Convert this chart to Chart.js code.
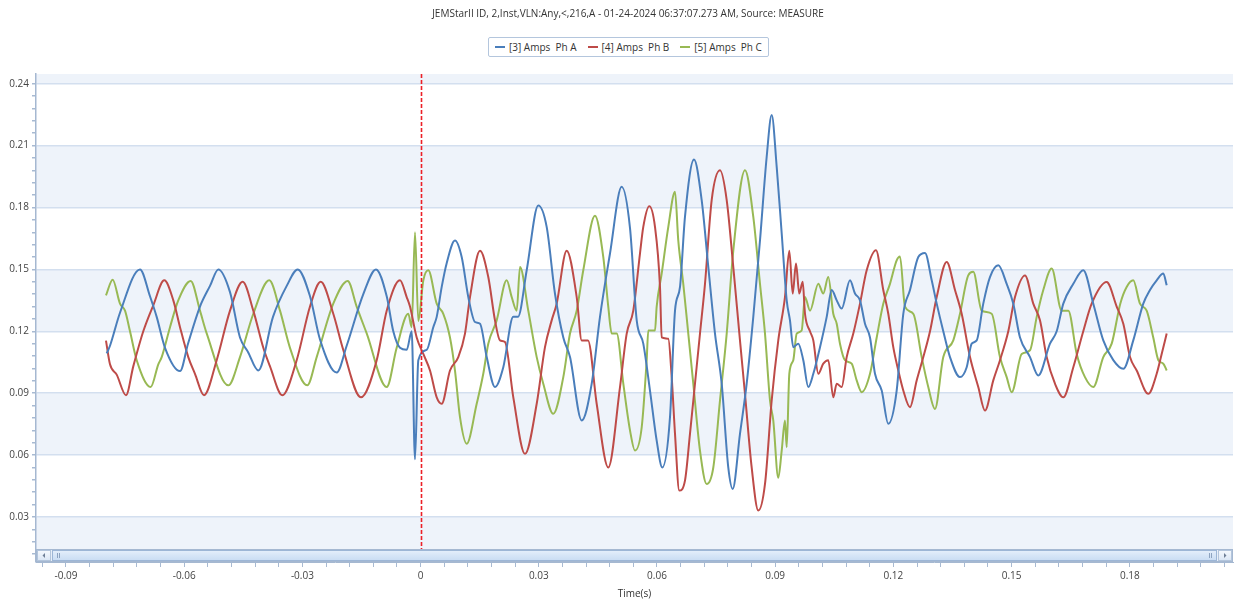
<!DOCTYPE html>
<html><head><meta charset="utf-8">
<script src="https://cdn.jsdelivr.net/npm/chart.js@4.4.1/dist/chart.umd.min.js"></script>
<style>
html,body{margin:0;padding:0;background:#fff;}
#wrap{position:relative;width:1238px;height:604px;overflow:hidden;font-family:'Open Sans',sans-serif;}
#c{position:absolute;left:0;top:0;}
#title{position:absolute;top:7px;left:628px;transform:translateX(-50%);white-space:pre;font-size:10px;line-height:12px;color:#333;}
#legend{position:absolute;left:488px;top:37px;height:18px;border:1px solid #b4c6dd;border-radius:2px;background:#fff;display:flex;align-items:center;padding:0 6px;font-size:10px;line-height:12px;color:#333;white-space:pre;}
.item{display:flex;align-items:center;}
.item+.item{margin-left:11px;}
.sw{width:10px;height:2px;margin-right:4px;}
</style></head>
<body>
<div id="wrap">
<canvas id="c" width="1238" height="604"></canvas>
<div id="title"></div>
<div id="legend"></div>
</div>
<script>
const chartTitle = 'JEMStarII ID, 2,Inst,VLN:Any,<,216,A - 01-24-2024 06:37:07.273 AM, Source: MEASURE';
const seriesLabels = ['[3] Amps  Ph A', '[4] Amps  Ph B', '[5] Amps  Ph C'];
const xAxisTitle = 'Time(s)';
const xTickValues = [-0.09,-0.06,-0.03,0,0.03,0.06,0.09,0.12,0.15,0.18];
const xTickLabels = ['-0.09','-0.06','-0.03','0','0.03','0.06','0.09','0.12','0.15','0.18'];
const yTickValues = [0.03,0.06,0.09,0.12,0.15,0.18,0.21,0.24];
const yTickLabels = ['0.03','0.06','0.09','0.12','0.15','0.18','0.21','0.24'];

const timeA = [-0.07967,-0.07883,-0.07629,-0.07122,-0.06868,-0.06698,-0.06487,-0.06106,-0.05903,-0.05599,-0.05345,-0.05134,-0.04837,-0.04584,-0.04381,-0.04119,-0.03746,-0.03398,-0.03119,-0.02807,-0.02553,-0.02129,-0.01876,-0.01454,-0.01132,-0.0086,-0.00693,-0.00523,-0.00353,-0.00226,-0.00142,-0.00058,0.00155,0.00322,0.00409,0.00536,0.00662,0.00873,0.01043,0.01211,0.01381,0.01508,0.01678,0.01888,0.02099,0.02353,0.02472,0.02693,0.02987,0.032,0.03411,0.03622,0.03792,0.04089,0.04343,0.04553,0.04807,0.05104,0.05315,0.05485,0.05652,0.05822,0.05992,0.06134,0.0633,0.06457,0.06584,0.0671,0.06939,0.07134,0.07302,0.07472,0.07642,0.07809,0.07921,0.08106,0.08276,0.08444,0.08614,0.08784,0.08911,0.09038,0.09165,0.09292,0.09375,0.09459,0.09586,0.09713,0.0984,0.09967,0.10137,0.10307,0.10434,0.10561,0.10687,0.10898,0.11025,0.11152,0.11279,0.11406,0.11533,0.11703,0.1187,0.12083,0.12251,0.12421,0.12632,0.12802,0.12972,0.13099,0.13266,0.13436,0.1369,0.1386,0.13987,0.14114,0.14281,0.14451,0.14662,0.14875,0.15043,0.15213,0.15467,0.15677,0.15974,0.16144,0.16312,0.16566,0.16819,0.17073,0.17327,0.17581,0.17835,0.18088,0.18342,0.18512,0.18682,0.1885,0.18936];
const ampsA = [0.1093,0.113,0.129,0.150,0.137,0.127,0.112,0.1007,0.114,0.132,0.142,0.150,0.139,0.117,0.110,0.101,0.127,0.142,0.150,0.137,0.116,0.100,0.113,0.138,0.150,0.137,0.120,0.112,0.111,0.120,0.058,0.106,0.111,0.122,0.127,0.1415,0.153,0.164,0.156,0.1366,0.1245,0.1237,0.1075,0.093,0.1026,0.127,0.127,0.1496,0.181,0.1706,0.1382,0.117,0.1075,0.0768,0.0946,0.127,0.1577,0.190,0.170,0.1253,0.114,0.0913,0.067,0.054,0.0784,0.130,0.1415,0.1755,0.2033,0.1836,0.1512,0.1189,0.0946,0.054,0.0436,0.0703,0.0946,0.127,0.164,0.2046,0.2248,0.1997,0.1674,0.135,0.1253,0.1123,0.114,0.106,0.093,0.0994,0.1123,0.127,0.140,0.135,0.131,0.1447,0.1383,0.135,0.1237,0.117,0.0994,0.0913,0.0752,0.0913,0.1285,0.140,0.156,0.158,0.1447,0.1334,0.120,0.1075,0.0978,0.1026,0.114,0.1156,0.1334,0.1463,0.152,0.143,0.1334,0.117,0.1075,0.0986,0.114,0.120,0.1334,0.143,0.1496,0.1334,0.1156,0.106,0.1018,0.1156,0.1334,0.140,0.1447,0.148,0.1423];

const timeB = [-0.07985,-0.07883,-0.07713,-0.07477,-0.07292,-0.07038,-0.06784,-0.06505,-0.06276,-0.06106,-0.05896,-0.05726,-0.05497,-0.05175,-0.04837,-0.04515,-0.04246,-0.03992,-0.03822,-0.0351,-0.03145,-0.02807,-0.02535,-0.02216,-0.01962,-0.01513,-0.01114,-0.0086,-0.00523,-0.00353,-0.00269,-0.00099,0.00069,0.00239,0.00409,0.00536,0.00746,0.00957,0.01127,0.01254,0.01508,0.01718,0.01888,0.02015,0.02142,0.02353,0.0265,0.02947,0.03157,0.03327,0.03454,0.03708,0.03962,0.04089,0.04249,0.04469,0.04764,0.05061,0.05231,0.05398,0.05568,0.05652,0.05804,0.05949,0.06076,0.06119,0.06287,0.06373,0.06457,0.06566,0.0671,0.06837,0.06964,0.07091,0.07218,0.07388,0.07599,0.07769,0.07936,0.08106,0.08233,0.08403,0.08571,0.08741,0.08911,0.09078,0.09248,0.09358,0.09444,0.09528,0.09611,0.09698,0.09756,0.09883,0.09967,0.10094,0.1022,0.10347,0.10474,0.10561,0.10687,0.10814,0.10982,0.11152,0.11322,0.11558,0.11743,0.1187,0.11997,0.12124,0.12251,0.12421,0.12591,0.12759,0.12929,0.13099,0.13352,0.13563,0.13733,0.13944,0.14154,0.14324,0.14535,0.14705,0.14916,0.15086,0.1534,0.1555,0.1572,0.1589,0.16101,0.16312,0.16566,0.16819,0.17032,0.17413,0.17667,0.17835,0.18005,0.18175,0.18469,0.18682,0.18809,0.18936];
const ampsB = [0.1155,0.104,0.099,0.089,0.103,0.120,0.1326,0.1447,0.135,0.122,0.1075,0.0994,0.089,0.106,0.130,0.144,0.130,0.112,0.103,0.089,0.106,0.132,0.144,0.1285,0.111,0.088,0.106,0.130,0.1447,0.1366,0.132,0.117,0.109,0.101,0.088,0.0849,0.101,0.1075,0.1189,0.1366,0.159,0.1463,0.1253,0.1156,0.1148,0.088,0.0606,0.0849,0.1123,0.1253,0.1334,0.159,0.1366,0.1156,0.1156,0.0849,0.054,0.093,0.1189,0.130,0.1577,0.1706,0.1806,0.1706,0.1415,0.117,0.1164,0.0978,0.0703,0.0428,0.0476,0.0703,0.0946,0.1189,0.143,0.1836,0.198,0.1836,0.1512,0.1156,0.0897,0.054,0.0331,0.046,0.0865,0.1156,0.1366,0.159,0.1383,0.1528,0.1383,0.144,0.1285,0.120,0.1156,0.0994,0.1043,0.106,0.088,0.0946,0.093,0.1075,0.1189,0.1334,0.1496,0.1593,0.140,0.1285,0.1123,0.101,0.0913,0.0832,0.0962,0.1075,0.120,0.1366,0.1536,0.140,0.1285,0.1075,0.093,0.0816,0.0962,0.106,0.120,0.1366,0.1471,0.1334,0.1253,0.1075,0.0946,0.088,0.1026,0.120,0.1334,0.1439,0.132,0.1237,0.1075,0.101,0.0897,0.0994,0.109,0.1189];

const timeC = [-0.07985,-0.07815,-0.07629,-0.07502,-0.07375,-0.07205,-0.0685,-0.06657,-0.06571,-0.0636,-0.0615,-0.05835,-0.05599,-0.05429,-0.0488,-0.04584,-0.04246,-0.0384,-0.03568,-0.03315,-0.02876,-0.02637,-0.02216,-0.0185,-0.01622,-0.01368,-0.0086,-0.00607,-0.00312,-0.00226,-0.00142,-0.00058,0.00069,0.00195,0.00409,0.00576,0.00746,0.00873,0.01,0.0117,0.01424,0.01591,0.01718,0.01931,0.02185,0.02312,0.02439,0.02523,0.02733,0.02947,0.03114,0.03368,0.03622,0.03792,0.03962,0.04129,0.04426,0.04637,0.04764,0.0485,0.04977,0.05145,0.05315,0.05442,0.05612,0.05738,0.05779,0.05949,0.05992,0.06119,0.06287,0.06457,0.0654,0.06667,0.06794,0.06921,0.07091,0.07261,0.07429,0.07599,0.07769,0.07936,0.08233,0.08444,0.08614,0.08741,0.08868,0.08951,0.09078,0.09165,0.09248,0.09292,0.09358,0.09459,0.09545,0.09672,0.09756,0.09883,0.10094,0.1022,0.10347,0.10474,0.10561,0.10644,0.10771,0.10941,0.11068,0.11195,0.11406,0.11576,0.11743,0.11913,0.12083,0.12167,0.12294,0.12505,0.12718,0.12885,0.13055,0.13266,0.1352,0.1369,0.139,0.14027,0.14241,0.14494,0.14705,0.14875,0.15002,0.15256,0.15467,0.15637,0.15804,0.16017,0.16271,0.16439,0.16652,0.16862,0.17073,0.17327,0.1754,0.17758,0.1792,0.18088,0.18258,0.18428,0.18595,0.18725,0.1885,0.18936];
const ampsC = [0.1374,0.145,0.1334,0.130,0.120,0.106,0.093,0.104,0.1075,0.122,0.135,0.1444,0.130,0.119,0.0938,0.1075,0.1285,0.1447,0.130,0.112,0.0938,0.1075,0.1334,0.1444,0.132,0.119,0.093,0.112,0.1285,0.122,0.168,0.125,0.1447,0.1496,0.1334,0.1285,0.117,0.101,0.0784,0.0655,0.0849,0.0994,0.114,0.1253,0.1447,0.1366,0.130,0.1512,0.130,0.1075,0.0946,0.080,0.0978,0.1189,0.130,0.1496,0.176,0.156,0.1318,0.1189,0.1189,0.0946,0.072,0.0622,0.0735,0.106,0.1204,0.1204,0.132,0.148,0.1706,0.1876,0.164,0.143,0.1189,0.0946,0.0622,0.046,0.054,0.0865,0.1189,0.159,0.198,0.1755,0.143,0.1189,0.0865,0.0768,0.049,0.0622,0.0768,0.0638,0.0994,0.106,0.1189,0.1204,0.1366,0.130,0.1431,0.1383,0.1463,0.1285,0.1237,0.114,0.106,0.1043,0.0962,0.0905,0.0994,0.117,0.1334,0.143,0.1544,0.1563,0.132,0.1285,0.1075,0.093,0.0824,0.1075,0.1156,0.1285,0.1471,0.1488,0.130,0.1285,0.1075,0.0978,0.0905,0.109,0.1108,0.127,0.140,0.1504,0.130,0.130,0.109,0.0978,0.093,0.1075,0.114,0.1334,0.1415,0.1447,0.1334,0.130,0.117,0.106,0.1043,0.101];

const seriesColors = ['#4a7ebb', '#be4b48', '#98b954'];
const pair = (ts, vs) => ts.map((t, i) => ({x: t, y: vs[i]}));

document.getElementById('title').textContent = chartTitle;
const lg = document.getElementById('legend');
seriesLabels.forEach((lab, i) => {
  const it = document.createElement('div'); it.className = 'item';
  const sw = document.createElement('span'); sw.className = 'sw'; sw.style.background = seriesColors[i];
  const tx = document.createElement('span'); tx.textContent = lab;
  it.appendChild(sw); it.appendChild(tx); lg.appendChild(it);
});

const near = (arr, v) => arr.findIndex(t => Math.abs(t - v) < 1e-7);
const xStep = (xTickValues[1] - xTickValues[0]) / 5;
const yStep = (yTickValues[1] - yTickValues[0]) / 5;

const bandsPlugin = {
  id: 'bands',
  beforeDraw(chart) {
    const {ctx, chartArea: a, scales: {y}} = chart;
    const step = yTickValues[1] - yTickValues[0];
    ctx.save();
    ctx.fillStyle = '#eef3fa';
    for (let k = 0; k < 10; k += 2) {
      const top = Math.max(a.top, y.getPixelForValue((k + 1) * step));
      const bot = Math.min(a.bottom, y.getPixelForValue(k * step));
      if (bot > top) ctx.fillRect(a.left, top, a.right - a.left, bot - top);
    }
    ctx.restore();
  }
};

const markerPlugin = {
  id: 'marker',
  afterDatasetsDraw(chart) {
    const {ctx, chartArea: a, scales: {x}} = chart;
    const px = Math.round(x.getPixelForValue(0)) + 0.5;
    ctx.save();
    ctx.strokeStyle = '#ec2027';
    ctx.lineWidth = 1.6;
    ctx.setLineDash([4, 2]);
    ctx.beginPath(); ctx.moveTo(px, a.top); ctx.lineTo(px, a.bottom - 13); ctx.stroke();
    ctx.restore();
  }
};

function btn(ctx, x, y, w, h, dir) {
  const g = ctx.createLinearGradient(0, y, 0, y + h);
  g.addColorStop(0, '#f7fafe'); g.addColorStop(1, '#d9e5f4');
  ctx.fillStyle = g; ctx.fillRect(x, y, w, h);
  ctx.strokeStyle = '#b3c5dc'; ctx.lineWidth = 1; ctx.strokeRect(x + 0.5, y + 0.5, w - 1, h - 1);
  ctx.fillStyle = '#6f7f96';
  const cx = x + w / 2, cy = y + h / 2;
  ctx.beginPath();
  if (dir < 0) { ctx.moveTo(cx - 1.5, cy); ctx.lineTo(cx + 1, cy - 2.5); ctx.lineTo(cx + 1, cy + 2.5); }
  else { ctx.moveTo(cx + 1.5, cy); ctx.lineTo(cx - 1, cy - 2.5); ctx.lineTo(cx - 1, cy + 2.5); }
  ctx.closePath(); ctx.fill();
}

const scrollPlugin = {
  id: 'scrollbar',
  afterDraw(chart) {
    const {ctx, chartArea: a} = chart;
    const top = a.bottom - 13, h = 13, left = a.left, right = a.right;
    ctx.save();
    ctx.fillStyle = '#e8eff8';
    ctx.fillRect(left, top, right - left, h);
    ctx.strokeStyle = '#a5b8d1'; ctx.lineWidth = 1;
    ctx.strokeRect(left + 0.5, top + 0.5, right - left - 1, h - 1);
    btn(ctx, left + 1, top + 1, 14, h - 2, -1);
    btn(ctx, right - 15, top + 1, 14, h - 2, 1);
    const tx = left + 16, tw = right - left - 32;
    const g = ctx.createLinearGradient(0, top, 0, top + h);
    g.addColorStop(0, '#eaf2fc'); g.addColorStop(0.5, '#d6e5f7'); g.addColorStop(1, '#c6daf2');
    ctx.fillStyle = g; ctx.fillRect(tx, top + 1, tw, h - 2);
    ctx.strokeStyle = '#9db6d6'; ctx.strokeRect(tx + 0.5, top + 1.5, tw - 1, h - 3);
    ctx.strokeStyle = '#8da3c0';
    [tx + 5, tx + 7, tx + tw - 8, tx + tw - 6].forEach(gx => {
      ctx.beginPath(); ctx.moveTo(gx + 0.5, top + 4); ctx.lineTo(gx + 0.5, top + h - 4); ctx.stroke();
    });
    ctx.restore();
  }
};

const axisFont = {family: "'Open Sans', sans-serif", size: 10};

new Chart(document.getElementById('c'), {
  type: 'line',
  data: {
    datasets: [
      {label: seriesLabels[0], data: pair(timeA, ampsA), borderColor: seriesColors[0]},
      {label: seriesLabels[1], data: pair(timeB, ampsB), borderColor: seriesColors[1]},
      {label: seriesLabels[2], data: pair(timeC, ampsC), borderColor: seriesColors[2]}
    ]
  },
  options: {
    responsive: false,
    animation: false,
    parsing: false,
    elements: {
      line: {borderWidth: 2, fill: false, cubicInterpolationMode: 'monotone', borderJoinStyle: 'round'},
      point: {radius: 0, hitRadius: 0, hoverRadius: 0}
    },
    layout: {padding: {top: 74, right: 5, left: 0, bottom: 0}},
    plugins: {legend: {display: false}, title: {display: false}, tooltip: {enabled: false}},
    events: [],
    scales: {
      x: {
        type: 'linear',
        min: -0.09761, max: 0.20619,
        afterFit: s => { s.height = 42; },
        afterBuildTicks: s => {
          const t = [];
          for (let k = -1; k <= 49; k++) t.push({value: Math.round((xTickValues[0] + k * xStep) * 1e6) / 1e6});
          s.ticks = t;
        },
        ticks: {
          autoSkip: false, maxRotation: 0, minRotation: 0, padding: 3,
          font: axisFont, color: '#444',
          callback: v => { const i = near(xTickValues, v); return i >= 0 ? xTickLabels[i] : ''; }
        },
        grid: {drawOnChartArea: false, drawTicks: true, tickLength: 5, tickColor: '#a8bad2', lineWidth: 1},
        border: {display: true, color: '#a5b8d1', width: 1},
        title: {display: true, text: xAxisTitle, font: axisFont, color: '#333', padding: {top: 0, bottom: 4}}
      },
      y: {
        type: 'linear',
        min: 0.00819, max: 0.2447,
        afterFit: s => { s.width = 36; },
        afterBuildTicks: s => {
          const t = [];
          for (let k = -3; k <= 35; k++) t.push({value: Math.round((yTickValues[0] + k * yStep) * 1e6) / 1e6});
          s.ticks = t;
        },
        ticks: {
          autoSkip: false, padding: 3, font: axisFont, color: '#444',
          callback: v => { const i = near(yTickValues, v); return i >= 0 ? yTickLabels[i] : ''; }
        },
        grid: {
          drawTicks: true, tickLength: 4, lineWidth: 1.5,
          color: c => (c.tick && near(yTickValues, c.tick.value) >= 0) ? '#d3dfef' : 'rgba(0,0,0,0)',
          tickColor: '#a8bad2'
        },
        border: {display: true, color: '#a5b8d1', width: 1.5}
      }
    }
  },
  plugins: [bandsPlugin, markerPlugin, scrollPlugin]
});
</script>
</body></html>
